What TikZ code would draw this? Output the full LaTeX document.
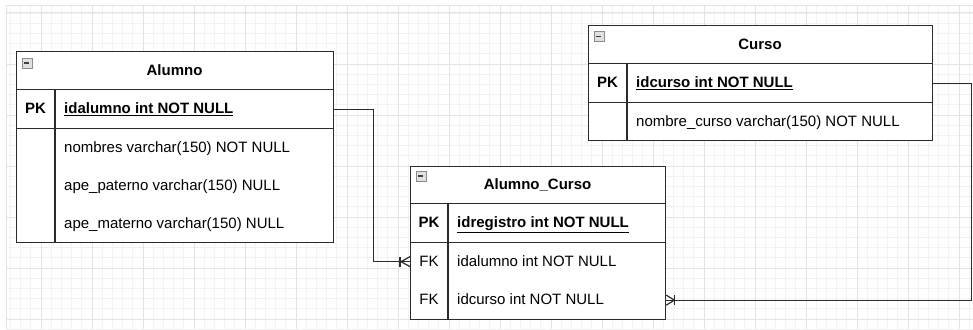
\documentclass[tikz,border=0pt]{standalone}
\usepackage{fontspec}
\setmainfont{Liberation Sans}
\definecolor{gridmin}{HTML}{F2F2F2}
\definecolor{gridmaj}{HTML}{E3E3E3}
\definecolor{linecol}{HTML}{2B2B2B}
\begin{document}
\begin{tikzpicture}[x=1pt,y=-1pt,
  gmin/.style={draw=gridmin, line width=0.8pt},
  gmaj/.style={draw=gridmaj, line width=1pt},
  tblbox/.style={draw=linecol, line width=1.3pt, fill=white, rectangle, inner sep=0pt, anchor=north west},
  rowbox/.style={draw=linecol, line width=1.3pt, rectangle, inner sep=0pt, anchor=north west},
  divline/.style={draw=linecol, line width=1.3pt},
  conn/.style={draw=linecol, line width=1.2pt},
  ttl/.style={font=\fontsize{15}{18}\selectfont\bfseries, inner sep=0pt, text height=12pt, text depth=2pt},
  keyl/.style={font=\fontsize{15}{18}\selectfont, inner sep=0pt, text height=12pt, text depth=2pt},
  fld/.style={font=\fontsize{15}{18}\selectfont, inner sep=0pt, anchor=west, text height=12pt, text depth=2pt},
  minusbox/.style={draw=black!45, fill=black!12, line width=0.8pt, minimum size=10pt, inner sep=0pt, rectangle},
  minusbar/.style={draw=black!75, line width=1.6pt}
]
\useasboundingbox (0,0) rectangle (973,329);
\fill[white] (0,0) rectangle (973,329);
\begin{scope}
\clip (6,6) rectangle (973,329);
\foreach \i in {-3,...,92} \draw[gmin] ({41+10.2*\i},6) -- ({41+10.2*\i},329);
\foreach \j in {-1,...,31} \draw[gmin] (6,{13+10.2*\j}) -- (973,{13+10.2*\j});
\foreach \i in {0,...,18} \draw[gmaj] ({41+51*\i},6) -- ({41+51*\i},329);
\foreach \j in {0,...,6} \draw[gmaj] (6,{13+51*\j}) -- (973,{13+51*\j});
\end{scope}
\draw[gmaj] (6,329) -- (6,6) -- (973,6);

% ---------- Alumno ----------
\node[tblbox, minimum width=317pt, minimum height=191pt] (alumno) at (16,51) {};
\node[rowbox, minimum width=317pt, minimum height=39pt] (aPK) at (16,89) {};
\node[rowbox, minimum width=317pt, minimum height=38pt, draw=none] (aR1) at (16,128) {};
\node[rowbox, minimum width=317pt, minimum height=38pt, draw=none] (aR2) at (16,166) {};
\node[rowbox, minimum width=317pt, minimum height=38pt, draw=none] (aR3) at (16,204) {};
\draw[divline] (55,89) -- (55,242);
\node[minusbox] (aM) at (27,63) {};
\draw[minusbar] (aM.west) ++(2.2,0) -- ++(5.6,0);
\node[ttl] (aT) at (174.5,70.5) {Alumno};
\node[keyl, font=\fontsize{15}{18}\selectfont\bfseries] (aK) at (35.5,108.5) {PK};
\node[fld, font=\fontsize{15}{18}\selectfont\bfseries] (aF0) at (64,108.5) {\underline{idalumno int NOT NULL}};
\node[fld] (aF1) at (64,147) {nombres varchar(150) NOT NULL};
\node[fld] (aF2) at (64,185) {ape\_paterno varchar(150) NULL};
\node[fld] (aF3) at (64,223) {ape\_materno varchar(150) NULL};

% ---------- Curso ----------
\node[tblbox, minimum width=344pt, minimum height=115pt] (curso) at (588,25) {};
\node[rowbox, minimum width=344pt, minimum height=39pt] (cPK) at (588,63) {};
\node[rowbox, minimum width=344pt, minimum height=38pt, draw=none] (cR1) at (588,102) {};
\draw[divline] (627,63) -- (627,140);
\node[minusbox] (cM) at (599,36.5) {};
\draw[minusbar] (cM.west) ++(2.2,0) -- ++(5.6,0);
\node[ttl] (cT) at (760,44) {Curso};
\node[keyl, font=\fontsize{15}{18}\selectfont\bfseries] (cK) at (607.5,82.5) {PK};
\node[fld, font=\fontsize{15}{18}\selectfont\bfseries] (cF0) at (636,82.5) {\underline{idcurso int NOT NULL}};
\node[fld] (cF1) at (636,121) {nombre\_curso varchar(150) NOT NULL};

% ---------- Alumno_Curso ----------
\node[tblbox, minimum width=255pt, minimum height=153pt] (ac) at (410,166) {};
\node[rowbox, minimum width=255pt, minimum height=39pt] (acPK) at (410,203) {};
\node[rowbox, minimum width=255pt, minimum height=38pt, draw=none] (acR1) at (410,242) {};
\node[rowbox, minimum width=255pt, minimum height=39pt, draw=none] (acR2) at (410,280) {};
\draw[divline] (448,203) -- (448,319);
\node[minusbox] (acM) at (421,176) {};
\draw[minusbar] (acM.west) ++(2.2,0) -- ++(5.6,0);
\node[ttl] (acT) at (537.5,184.5) {Alumno\_Curso};
\node[keyl, font=\fontsize{15}{18}\selectfont\bfseries] (acK0) at (429,222.5) {PK};
\node[keyl] (acK1) at (429,261) {FK};
\node[keyl] (acK2) at (429,299.5) {FK};
\node[fld, font=\fontsize{15}{18}\selectfont\bfseries] (acF0) at (457,222.5) {\underline{idregistro int NOT NULL}};
\node[fld] (acF1) at (457,261) {idalumno int NOT NULL};
\node[fld] (acF2) at (457,299.5) {idcurso int NOT NULL};

% ---------- connectors ----------
\draw[conn] (aPK.east) -- ++(39,0) |- (acR1.west);
\draw[conn] ([xshift=-9pt]acR1.west) -- ([yshift=5pt]acR1.west);
\draw[conn] ([xshift=-9pt]acR1.west) -- ([yshift=-5pt]acR1.west);
\draw[conn] ([xshift=-10pt,yshift=5pt]acR1.west) -- ([xshift=-10pt,yshift=-5pt]acR1.west);

\draw[conn] (cPK.east) -- ++(38,0) |- (acR2.east);
\draw[conn] ([xshift=8pt]acR2.east) -- ([yshift=5pt]acR2.east);
\draw[conn] ([xshift=8pt]acR2.east) -- ([yshift=-5pt]acR2.east);
\draw[conn] ([xshift=8pt,yshift=5pt]acR2.east) -- ([xshift=8pt,yshift=-5pt]acR2.east);
\end{tikzpicture}
\end{document}
